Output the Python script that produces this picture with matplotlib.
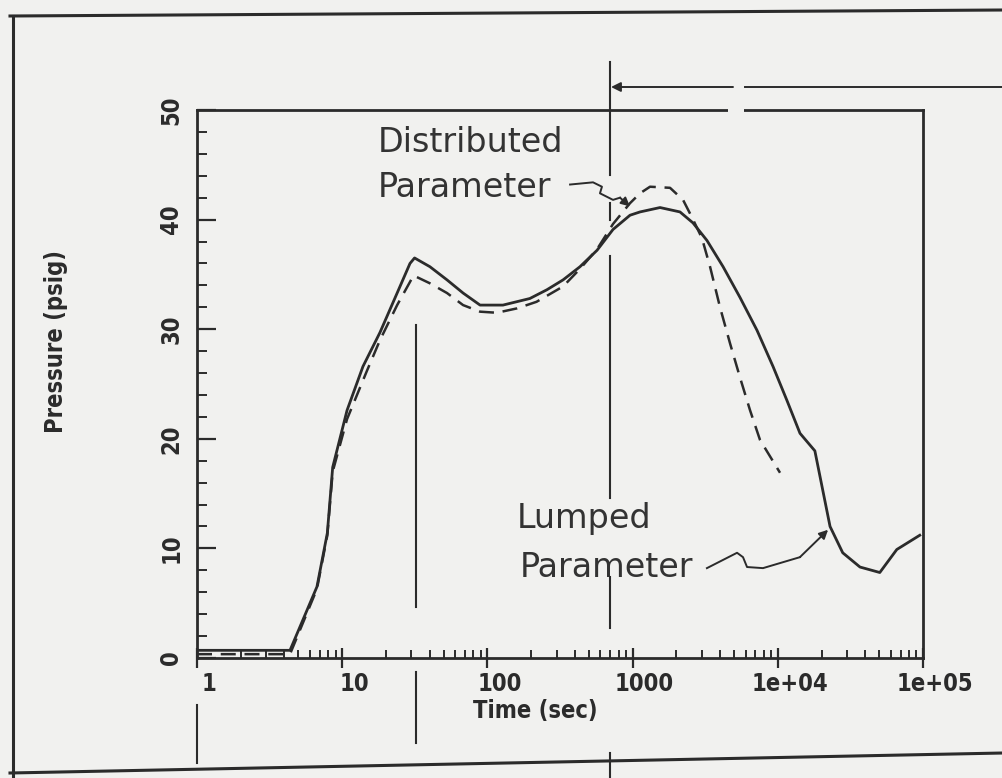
import matplotlib
matplotlib.use('Agg')
import matplotlib.pyplot as plt
import matplotlib.transforms as mtransforms
from matplotlib.lines import Line2D
from matplotlib.patches import Rectangle, FancyArrowPatch
from matplotlib.ticker import LogLocator, MultipleLocator, NullFormatter

# values
t_lumped = [1, 4.37, 6.7, 7.9, 8.6, 10.8, 13.9, 18.2, 23.9, 29.3, 31.5, 40.2, 52.7, 68,
            89, 128, 196, 257, 332, 434, 569, 733, 960, 1125, 1545, 2120, 2605, 3250,
            4200, 5490, 7190, 9270, 11560, 14220, 18000, 22900, 28000, 36800, 50400,
            66000, 95000]
p_lumped = [0.7, 0.7, 6.5, 11.4, 17.4, 22.6, 26.6, 29.7, 33.3, 36.0, 36.5, 35.7, 34.5, 33.3,
            32.2, 32.2, 32.8, 33.6, 34.5, 35.7, 37.2, 39.1, 40.4, 40.7, 41.1, 40.7, 39.7, 38.1,
            35.7, 32.9, 29.9, 26.6, 23.5, 20.5, 18.9, 12.0, 9.6, 8.3, 7.8,
            9.9, 11.2]

t_dist = [1, 4.37, 6.7, 7.9, 8.6, 10.8, 14.8, 18.2, 23.9, 31, 40, 52.7, 68, 89, 116, 160,
          218, 332, 434, 569, 733, 960, 1125, 1318, 1810, 2225, 2565, 3005, 3415, 4000,
          4690, 5490, 6440, 7540, 10360]
p_dist = [0.35, 0.35, 6.3, 11.2, 17.0, 21.8, 26.2, 29.0, 32.2, 34.9, 34.2, 33.3, 32.2, 31.6,
          31.5, 31.9, 32.5, 33.9, 35.5, 37.3, 39.6, 41.5, 42.4, 43.0, 42.9, 41.8, 40.2,
          38.3, 35.7, 32.0, 28.7, 25.6, 22.6, 19.9, 16.9]

xtick_vals = [1, 10, 100, 1000, 1e4, 1e5]
xtick_labels = ['1', '10', '100', '1000', '1e+04', '1e+05']
ytick_vals = [0, 10, 20, 30, 40, 50]

# leader lines of the two hand-drawn callouts
lead_dist_t = [371, 534, 615, 596, 733, 819, 959]
lead_dist_p = [43.2, 43.4, 43.0, 42.4, 41.8, 42.0, 41.2]
lead_lump_t = [3250, 5240, 5760, 6140, 7910, 14200, 22200]
lead_lump_p = [8.2, 9.6, 9.2, 8.3, 8.2, 9.2, 11.7]

phase_times = [1, 32, 700]

W, H = 1003, 778
bg = '#f1f1ef'
ink = '#2b2b2b'

fig = plt.figure(figsize=(W / 100, H / 100), dpi=100, facecolor=bg)
ax = fig.add_axes([197 / W, 1 - 658 / H, (923 - 197) / W, (658 - 110) / H])
ax.set_facecolor(bg)

ax.plot(t_lumped, p_lumped, color=ink, lw=2.0, solid_joinstyle='round')
ax.plot(t_dist, p_dist, color=ink, lw=1.8, dashes=(6, 3.5))

ax.set_xscale('log')
ax.set_xlim(1, 1e5)
ax.set_ylim(0, 50)

ax.set_xticks(xtick_vals, xtick_labels)
ax.xaxis.set_minor_locator(LogLocator(base=10, subs=range(2, 10)))
ax.xaxis.set_minor_formatter(NullFormatter())
ax.set_yticks(ytick_vals)
ax.yaxis.set_minor_locator(MultipleLocator(2))

for s in ax.spines.values():
    s.set_linewidth(2.0)
    s.set_color(ink)

ax.tick_params(axis='x', which='major', direction='inout', length=14, width=1.6,
               color=ink, pad=3)
ax.tick_params(axis='x', which='minor', direction='in', length=6, width=1.4, color=ink)
ax.tick_params(axis='y', which='major', direction='in', length=14, width=1.6,
               color=ink, pad=10, labelrotation=90)
ax.tick_params(axis='y', which='minor', direction='in', length=7, width=1.4, color=ink)

lab_style = dict(fontstretch='condensed', fontweight='bold', fontsize=17, color=ink)
plt.setp(ax.get_xticklabels(), **lab_style)
plt.setp(ax.get_yticklabels(), va='center', **lab_style)
shift = mtransforms.ScaledTranslation(12 / 100, 0, fig.dpi_scale_trans)
for lab in ax.get_xticklabels():
    lab.set_transform(lab.get_transform() + shift)

ax.set_xlabel('Time (sec)', **lab_style)
ax.xaxis.set_label_coords(0.466, -0.075)
ax.set_ylabel('Pressure (psig)', **lab_style)
ax.yaxis.set_label_coords(-0.178, 0.578)

# callouts
txt = dict(fontsize=24, color='#333333', va='baseline')
ax.text(17.6, 46.2, 'Distributed', **txt)
ax.text(17.6, 42.1, 'Parameter', **txt)
ax.text(160, 11.9, 'Lumped', **txt)
ax.text(168, 7.4, 'Parameter', **txt)

for lt, lp in [(lead_dist_t, lead_dist_p), (lead_lump_t, lead_lump_p)]:
    ax.plot(lt[:-1], lp[:-1], color=ink, lw=1.4)
    ax.annotate('', xy=(lt[-1], lp[-1]), xytext=(lt[-2], lp[-2]),
                arrowprops=dict(arrowstyle='-|>', color=ink, lw=1.4, mutation_scale=13,
                                shrinkA=0, shrinkB=0))

# vertical phase markers crossing the plot (x in data, y in figure pixels)
blend = mtransforms.blended_transform_factory(ax.transData, fig.transFigure)
segments = {1: [(705, 763)],
            32: [(325, 607), (672, 743)],
            700: [(62, 175), (203, 220), (256, 498), (577, 628), (753, 778)]}
for tp in phase_times:
    for y0, y1 in segments[tp]:
        fig.add_artist(Line2D([tp, tp], [1 - y0 / H, 1 - y1 / H], transform=blend,
                              color=ink, lw=1.5))


def fpx(x, y):
    return (x / W, 1 - y / H)


# arrow at the top pointing back to the marker
fig.add_artist(Line2D([745 / W, 1.0], [1 - 87 / H] * 2, transform=fig.transFigure,
                      color=ink, lw=1.4))
fig.add_artist(FancyArrowPatch(fpx(733, 87), fpx(611, 87), transform=fig.transFigure,
                               arrowstyle='-|>', mutation_scale=14, color=ink, lw=1.4,
                               shrinkA=0, shrinkB=0))

# crease in the scan through the top border
fig.add_artist(Rectangle(fpx(728, 118), 16 / W, 14 / H, transform=fig.transFigure,
                         facecolor=bg, edgecolor='none', zorder=5))

# page frame of the scan
for (xa, ya), (xb, yb) in [((13, 16), (13, 778)), ((10, 16), (1003, 10)),
                           ((10, 773), (1003, 753))]:
    fig.add_artist(Line2D([xa / W, xb / W], [1 - ya / H, 1 - yb / H],
                          transform=fig.transFigure, color=ink, lw=2.2))

fig.savefig('out.png', dpi=100, facecolor=bg)
